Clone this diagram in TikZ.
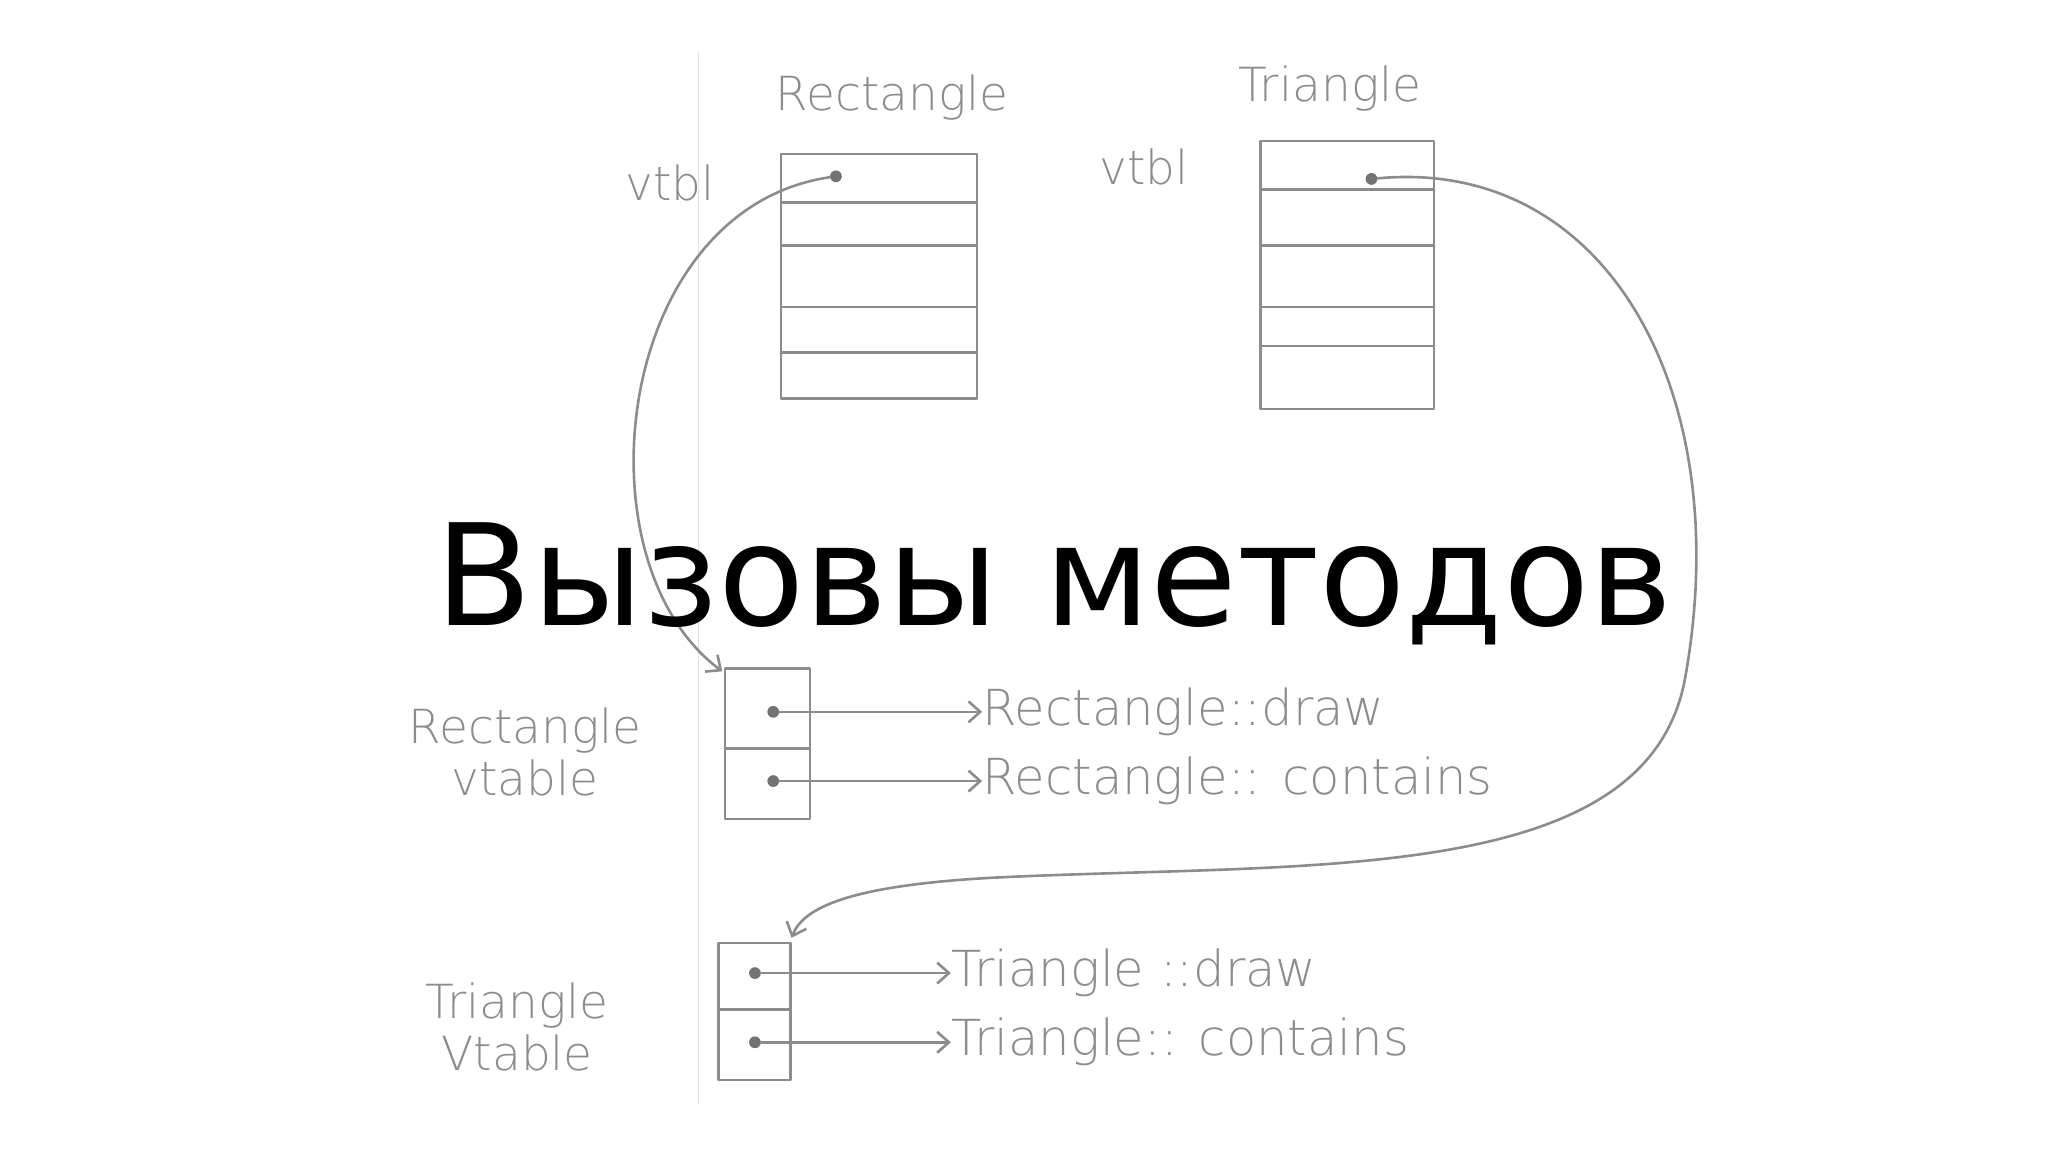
\documentclass[tikz,border=0pt]{standalone}
\usepackage{fontspec}
\setmainfont{DejaVu Sans}
\newfontfamily\hand{DejaVu Sans ExtraLight}
\usetikzlibrary{arrows.meta}
\begin{document}
\begin{tikzpicture}[x=1pt,y=-1pt,
  sk/.style={draw=black!45, line width=2pt, line cap=round, line join=round},
  hw/.style={text=black!45, font=\hand\fontsize{36}{40}\selectfont, inner sep=0pt},
  fn/.style={hw, anchor=west, font=\hand\fontsize{38}{40}\selectfont},
  dotc/.style={circle, fill=black!55, inner sep=0pt, minimum size=9pt},
  arr/.style={sk, -{Straight Barb[length=9pt,width=16pt]}}]
\useasboundingbox (0,0) rectangle (1568,882);
\draw[black!12, line width=1pt] (535,40) -- (535,845);
% object boxes
\draw[sk] (598,118) rectangle (748,305);
\foreach \y in {155,188,235,270} \draw[sk] (598,\y) -- (748,\y);
\node[dotc] (rd) at (640,135) {};
\node[hw] (rl) at (683,75) {Rectangle};
\node[hw] (v1) at (513,140) {vtbl};
\draw[sk] (965,108) rectangle (1098,313);
\foreach \y in {145,188,235,265} \draw[sk] (965,\y) -- (1098,\y);
\node[dotc] (td) at (1050,137) {};
\node[hw] (tl) at (1018,68) {Triangle};
\node[hw] (v2) at (876,128) {vtbl};
% vtables
\draw[sk] (555,512) rectangle (620,627);
\draw[sk] (555,573) -- (620,573);
\coordinate (rvt) at (553,514);
\node[dotc] (r1) at (592,545) {};
\node[dotc] (r2) at (592,598) {};
\node[fn] (rf1) at (752,545) {Rectangle::draw};
\node[fn] (rf2) at (752,598) {Rectangle:: contains};
\draw[arr] (r1) -- (r1 -| rf1.west);
\draw[arr] (r2) -- (r2 -| rf2.west);
\node[hw, align=center] (rvl) at (402,576) {Rectangle\\vtable};
\draw[sk] (550,722) rectangle (605,827);
\draw[sk] (550,773) -- (605,773);
\coordinate (tvt) at (606,718);
\node[dotc] (t1) at (578,745) {};
\node[dotc] (t2) at (578,798) {};
\node[fn] (tf1) at (728,745) {Triangle ::draw};
\node[fn] (tf2) at (728,798) {Triangle:: contains};
\draw[arr] (t1) -- (t1 -| tf1.west);
\draw[arr] (t2) -- (t2 -| tf2.west);
\node[hw, align=center] (tvl) at (396,786) {Triangle\\Vtable};
% pointers
\draw[arr] (rd) .. controls (470,160) and (440,430) .. (rvt);
\draw[arr] (td) .. controls (1230,120) and (1330,300) .. (1290,520)
  .. controls (1260,680) and (1000,660) .. (760,672)
  .. controls (650,678) and (615,695) .. (tvt);
% title
\node[font=\fontsize{108}{114}\selectfont] (title) at (807,447) {Вызовы методов};
\end{tikzpicture}
\end{document}
